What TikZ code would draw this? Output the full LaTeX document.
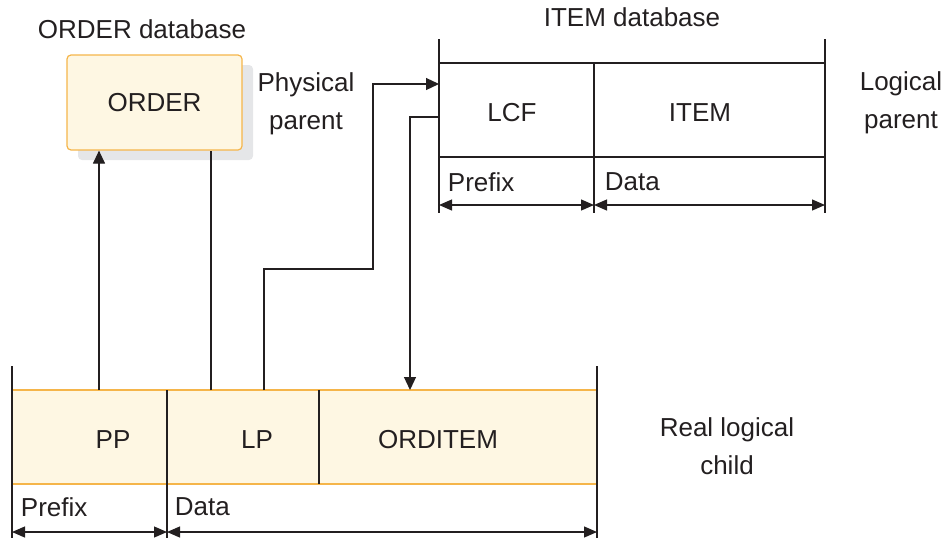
\documentclass[tikz,border=0pt]{standalone}
\usepackage{fontspec}
\setmainfont{Liberation Sans}
\usetikzlibrary{arrows.meta,positioning,shadows}
\definecolor{cream}{HTML}{FEF7E3}
\definecolor{amber}{HTML}{F5B54A}
\definecolor{ink}{HTML}{231F20}
\definecolor{shade}{HTML}{E5E6E8}

\begin{document}
\begin{tikzpicture}[x=1pt, y=-1pt, font=\fontsize{26}{38}\selectfont, line width=1.2pt, color=ink,
  cell/.style={minimum height=94pt, inner sep=0pt, outer sep=0pt, anchor=north west},
  tip/.style={-{Triangle[length=13pt,width=12pt]}},
  span/.style={{Triangle[length=13pt,width=11pt]}-{Triangle[length=13pt,width=11pt]}}]
\useasboundingbox (0,0) rectangle (949,538);
% ORDER database
\node (orderdb) at (142,29) {ORDER database};
\node[draw=amber, fill=cream, rounded corners=4pt, minimum width=175pt, minimum height=95pt, drop shadow={shadow xshift=11pt, shadow yshift=-10pt, fill=shade, opacity=1}] (order) at (154.5,102.5) {ORDER};
\node[align=center] (phys) at (306,104) {Physical\\parent};
% ITEM database
\node (itemdb) at (632,17) {ITEM database};
\node[cell, draw, minimum width=155pt] (lcf) at (439,63) {};
\node[cell, draw, minimum width=231pt] (item) at (lcf.north east) {};
\node (lcftxt) at (512,113) {LCF};
\node (itemtxt) at (700,113) {ITEM};
\node[align=center] (logpar) at (901,103) {Logical\\parent};
\draw ([yshift=24pt]lcf.north west) -- ([yshift=-56pt]lcf.south west); \draw ([yshift=24pt]item.north east) -- ([yshift=-56pt]item.south east); \draw (lcf.south east) -- ([yshift=-56pt]lcf.south east);
\node[anchor=west] (ipfx) at (444,182) {Prefix};
\node[anchor=west] (idata) at (601,182) {Data};
\draw[span] ([yshift=-48pt]lcf.south west) -- ([yshift=-48pt]lcf.south east); \draw[span] ([yshift=-48pt]item.south west) -- ([yshift=-48pt]item.south east);
% real logical child segment
\node[cell, fill=cream, minimum width=155pt] (pp) at (12,390) {};
\node[cell, fill=cream, minimum width=152pt] (lp) at (pp.north east) {};
\node[cell, fill=cream, minimum width=278pt] (orditem) at (lp.north east) {};
\draw[amber] (pp.north west) -- (orditem.north east) (pp.south west) -- (orditem.south east);
\draw ([yshift=24pt]pp.north west) -- ([yshift=-54pt]pp.south west); \draw ([yshift=24pt]orditem.north east) -- ([yshift=-54pt]orditem.south east); \draw (pp.north east) -- ([yshift=-54pt]pp.south east); \draw (lp.north east) -- (lp.south east);
\node (pptxt) at (113,440) {PP};
\node (lptxt) at (257,440) {LP};
\node (ordtxt) at (438,440) {ORDITEM};
\node[align=center] (child) at (727,446) {Real logical\\child};
\node[anchor=west] (bpfx) at (17,507) {Prefix};
\node[anchor=west] (bdata) at (171,507) {Data};
\draw[span] ([yshift=-48pt]pp.south west) -- ([yshift=-48pt]pp.south east); \draw[span] ([yshift=-48pt]lp.south west) -- ([yshift=-48pt]orditem.south east);
% pointers
\coordinate (bend) at (373,269);
\draw[tip] ([xshift=87pt]pp.north west) -- ([xshift=87pt]pp.north west |- order.south);
\draw ([xshift=44pt]lp.north west) -- ([xshift=44pt]lp.north west |- order.south);
\draw[tip] ([xshift=97pt]lp.north west) |- (bend) |- ([yshift=26pt]lcf.west);
\draw[tip] ([yshift=-7pt]lcf.west) -| ([xshift=91pt]orditem.north west);
\end{tikzpicture}
\end{document}
